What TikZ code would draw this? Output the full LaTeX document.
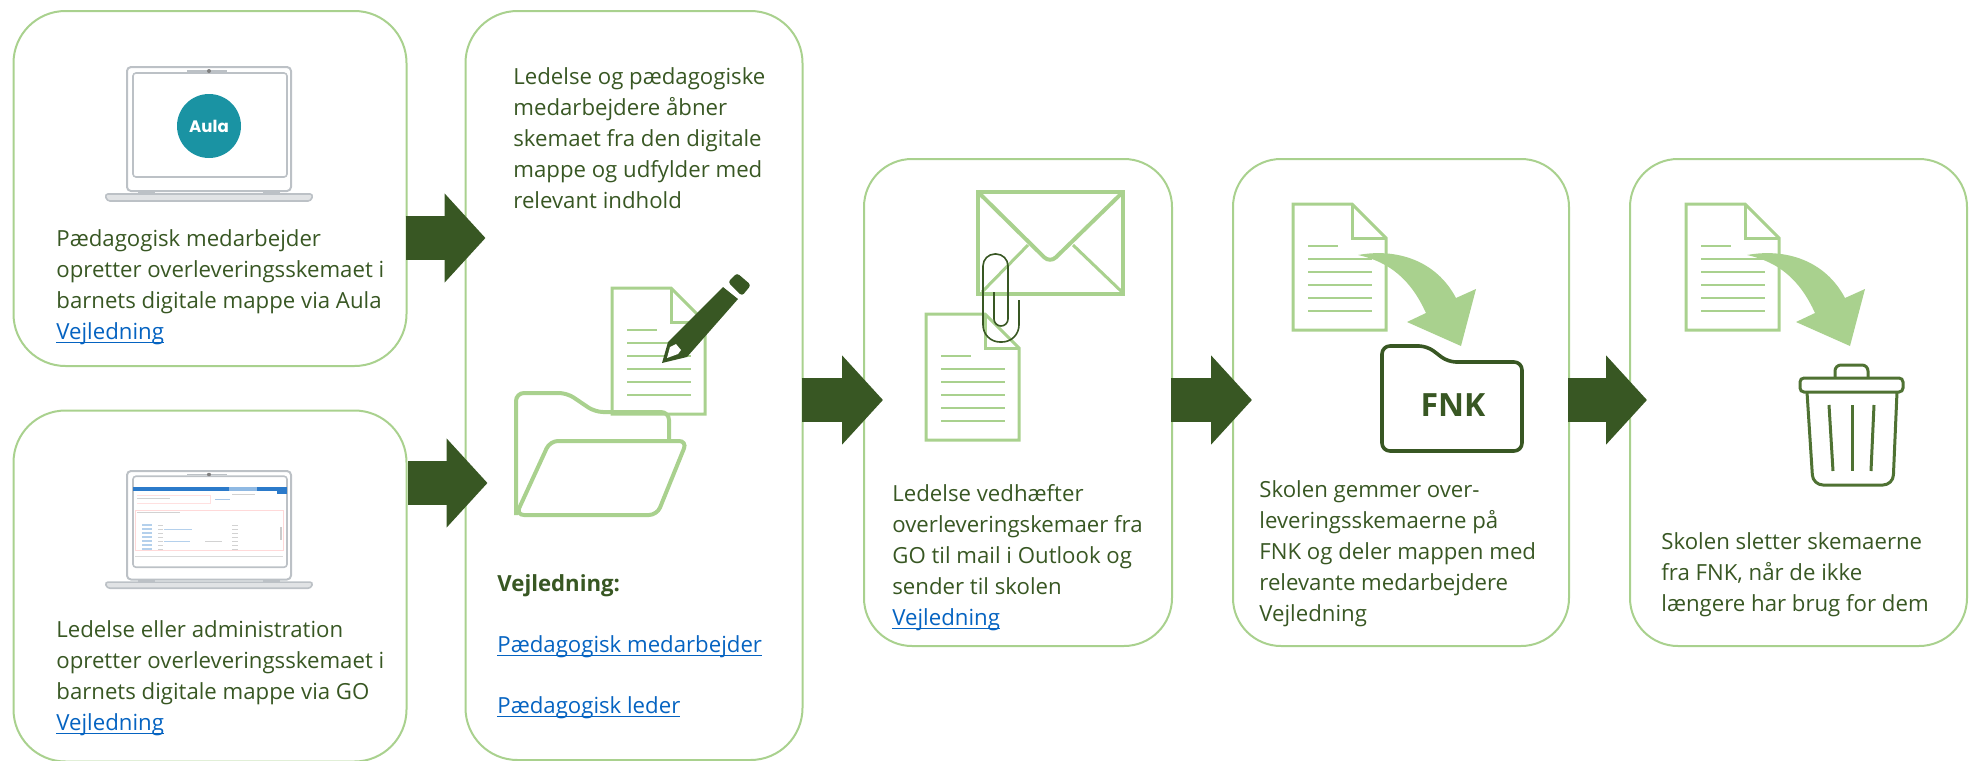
\documentclass[tikz,border=0pt]{standalone}
\usepackage{fontspec}
\setmainfont{Open Sans}
\newfontfamily\aulafont{Poppins}
\usetikzlibrary{arrows.meta}
\definecolor{boxline}{HTML}{A9D18E}
\definecolor{darkgreen}{HTML}{385723}
\definecolor{trashgreen}{HTML}{4F7233}
\definecolor{linkblue}{HTML}{0563C1}
\definecolor{aulateal}{HTML}{1A93A3}
\definecolor{laptopgray}{HTML}{BCC1C6}
\newcommand{\linktext}[1]{\textcolor{linkblue}{\sbox0{#1}\rlap{\rule[-2pt]{\wd0}{.6pt}}#1}}

\begin{document}
\begin{tikzpicture}[x=.5pt, y=-.5pt,
            flowbox/.style = {shape=rectangle, rounded corners=26pt,
                              draw=boxline, line width=1pt},
            flowtext/.style = {anchor=north west, inner sep=0pt, align=left,
                               text=darkgreen,
                               font=\fontsize{11.1}{15.5}\selectfont},
            flowarrow/.style = {draw=darkgreen, line width=22pt,
                                -{Triangle[length=20.5pt,width=43.5pt]}},
            docline/.style = {draw=boxline, line width=1.5pt},
            docicon/.pic = {
                \draw[docline] (0,0) -- (59,0) -- (93,34) -- (93,126) -- (0,126) -- cycle;
                \draw[docline] (59,0) -- (59,34) -- (93,34);
                \draw[docline, line width=1.2pt] (15,42) -- (45,42);
                \foreach \yy in {55,68,81,94,107}
                    \draw[docline, line width=1.2pt] (15,\yy) -- (79,\yy);
            },
            bendarrow/.pic = {
                \fill[boxline] (0,0) .. controls (38,-7) and (78,5) .. (98,43)
                    -- (118,34) -- (103,91) -- (49,67) -- (68,58)
                    .. controls (53,25) and (32,7) .. (0,0) -- cycle;
            },
            laptop/.pic = {
                \draw[laptopgray, line width=1pt, rounded corners=2pt] (0,0) rectangle (164,124);
                \draw[laptopgray, line width=.8pt, rounded corners=1.5pt] (6,6) rectangle (160,110);
                \draw[laptopgray, line width=.6pt] (60,4) -- (100,4);
                \fill[gray] (82,4) circle (1pt);
                \fill[laptopgray] (11,124) rectangle (28,127);
                \fill[laptopgray] (136,124) rectangle (153,127);
                \draw[laptopgray, fill=laptopgray!45, line width=.8pt, rounded corners=1.5pt]
                    (-22,127) -- (186,127) -- (184,134) -- (-20,134) -- cycle;
            }]
    \useasboundingbox (0,0) rectangle (1978,761);

    \node[flowbox, minimum width=196.5pt, minimum height=177.5pt] (pedagog) at (210,188.5) {};
    \node[flowbox, minimum width=196.5pt, minimum height=175.5pt] (ledelse) at (210,586) {};
    \node[flowbox, minimum width=168.5pt, minimum height=374.5pt] (skema) at (634,385.5) {};
    \node[flowbox, rounded corners=24pt, minimum width=154pt, minimum height=243.5pt] (mail) at (1018,402.5) {};
    \node[flowbox, rounded corners=24pt, minimum width=168pt, minimum height=243.5pt] (gemmer) at (1401,402.5) {};
    \node[flowbox, rounded corners=24pt, minimum width=168.5pt, minimum height=243.5pt] (sletter) at (1798.5,402.5) {};

    \pic at (127,67) {laptop};
    \node[shape=circle, fill=aulateal, minimum size=32pt, inner sep=0pt, text=white,
          font=\aulafont\fontsize{8.3}{10}\selectfont\bfseries] (aula) at (209,126) {Aula};

    \pic[yscale=.875] at (127,471) {laptop};
    \fill[linkblue!85] (133,487) rectangle (287,491);
    \fill[linkblue!45] (229,487) rectangle (257,491);
    \fill[linkblue!85] (277,487) rectangle (287,494);
    \draw[red!15, line width=.3pt] (135,510) rectangle (283,550);
    \draw[red!12, line width=.3pt] (137,495) -- (210,495) -- (210,503) -- (137,503);
    \draw[gray!35, line width=.5pt] (137,498) -- (170,498);
    \draw[gray!35, line width=.5pt] (137,512) -- (180,512);
    \draw[gray!35, line width=.5pt] (232,494) -- (255,494);
    \draw[linkblue!35, line width=.5pt] (215,499) -- (230,499);
    \foreach \yy in {525,529,533,537,541,545,549} {
        \draw[linkblue!30, line width=.6pt] (142,\yy) -- (152,\yy);
        \draw[gray!35, line width=.5pt] (158,\yy) -- (163,\yy);
        \draw[gray!35, line width=.5pt] (232,\yy) -- (238,\yy);
    }
    \draw[linkblue!30, line width=.5pt] (164,529) -- (192,529);
    \draw[linkblue!30, line width=.5pt] (164,541) -- (190,541);
    \draw[gray!35, line width=.5pt] (205,541) -- (222,541);
    \draw[gray!40, line width=1pt] (281,527) -- (281,540);
    \draw[gray!30, line width=.4pt] (135,556) -- (283,556);

    \pic at (612,288) {docicon};
    \draw[docline, line width=2pt, rounded corners=4pt] (516,515) -- (516,393) -- (567,393)
        -- (595,412) -- (669,412) -- (669,441);
    \draw[docline, line width=2pt, rounded corners=4pt] (516,515) -- (550,441) -- (687,441)
        -- (657,515) -- cycle;
    \fill[darkgreen] (662,363) -- (668,342) -- (723,287) -- (738,299) -- (687,357) -- cycle;
    \fill[darkgreen, rounded corners=1.5pt] (728,282) -- (737,273) -- (751,285) -- (742,296) -- cycle;
    \fill[white] (667,358) -- (670,347) -- (676,344) -- (681,350) -- (678,354) -- cycle;

    \draw[docline, line width=2pt] (978,192) rectangle (1123,294);
    \draw[docline, line width=2pt, rounded corners=4pt] (978,192) -- (1050,263) -- (1123,192);
    \draw[docline] (982,292) -- (1028,245);
    \draw[docline] (1073,245) -- (1122,292);
    \pic at (926,314) {docicon};
    \draw[darkgreen, line width=.8pt] (1019,300)
        [rounded corners=8.5pt] -- (1019,342) -- (983,342)
        [rounded corners=6pt] -- (983,254) -- (1008,254)
        [rounded corners=3.5pt] -- (1008,326) -- (994,326) -- (994,292);

    \pic at (1293,204) {docicon};
    \pic at (1358,255) {bendarrow};
    \draw[darkgreen, line width=1.8pt, rounded corners=4pt] (1382,451) -- (1382,346) -- (1427,346)
        -- (1448,362) -- (1522,362) -- (1522,451) -- cycle;
    \node[text=darkgreen, inner sep=0pt, font=\fontsize{16}{18}\selectfont\bfseries] (fnk) at (1453,405) {FNK};

    \pic at (1686,204) {docicon};
    \pic at (1747,255) {bendarrow};
    \draw[trashgreen, line width=1.5pt, rounded corners=3pt] (1835,378) -- (1835,365) -- (1868,365) -- (1868,378);
    \draw[trashgreen, line width=1.5pt, rounded corners=2pt] (1800,378) rectangle (1903,392);
    \draw[trashgreen, line width=1.5pt, rounded corners=5pt] (1807,392) -- (1813,485) -- (1893,485) -- (1897,392);
    \draw[trashgreen, line width=1.5pt] (1829,405) -- (1833,471);
    \draw[trashgreen, line width=1.5pt] (1852,405) -- (1852,471);
    \draw[trashgreen, line width=1.5pt] (1874,405) -- (1871,471);

    \node[flowtext] (pedagogtext) at (56,229) {Pædagogisk medarbejder\\opretter overleveringsskemaet i\\barnets digitale mappe via Aula\\\linktext{Vejledning}};
    \node[flowtext] (ledelsetext) at (56,620) {Ledelse eller administration\\opretter overleveringsskemaet i\\barnets digitale mappe via GO\\\linktext{Vejledning}};
    \node[flowtext] (skematext) at (513,67) {Ledelse og pædagogiske\\medarbejdere åbner\\skemaet fra den digitale\\mappe og udfylder med\\relevant indhold};
    \node[flowtext, font=\fontsize{11.1}{15.5}\selectfont\bfseries] (vejledtitle) at (497,574) {Vejledning:};
    \node[flowtext] (linkpedagog) at (497,635) {\linktext{Pædagogisk medarbejder}};
    \node[flowtext] (linkleder) at (497,696) {\linktext{Pædagogisk leder}};
    \node[flowtext] (mailtext) at (892,484) {Ledelse vedhæfter\\overleveringskemaer fra\\GO til mail i Outlook og\\sender til skolen\\\linktext{Vejledning}};
    \node[flowtext] (gemmertext) at (1259,480) {Skolen gemmer over-\\leveringsskemaerne på\\FNK og deler mappen med\\relevante medarbejdere\\Vejledning};
    \node[flowtext] (slettertext) at (1661,532) {Skolen sletter skemaerne\\fra FNK, når de ikke\\længere har brug for dem};

    \draw[flowarrow] ([xshift=-1pt,yshift=-24.75pt]pedagog.east) -- ([xshift=10.5pt,yshift=73.75pt]skema.west);
    \draw[flowarrow] ([yshift=51.5pt]ledelse.east) -- ([xshift=11.5pt,yshift=-48.75pt]skema.west);
    \draw[flowarrow] ([xshift=-1pt,yshift=-7.25pt]skema.east) -- ([xshift=10pt,yshift=1.25pt]mail.west);
    \draw[flowarrow] ([xshift=-1pt,yshift=1.25pt]mail.east) -- ([xshift=10pt,yshift=1.25pt]gemmer.west);
    \draw[flowarrow] ([xshift=-1pt,yshift=1.25pt]gemmer.east) -- ([xshift=9pt,yshift=1.25pt]sletter.west);
\end{tikzpicture}
\end{document}
